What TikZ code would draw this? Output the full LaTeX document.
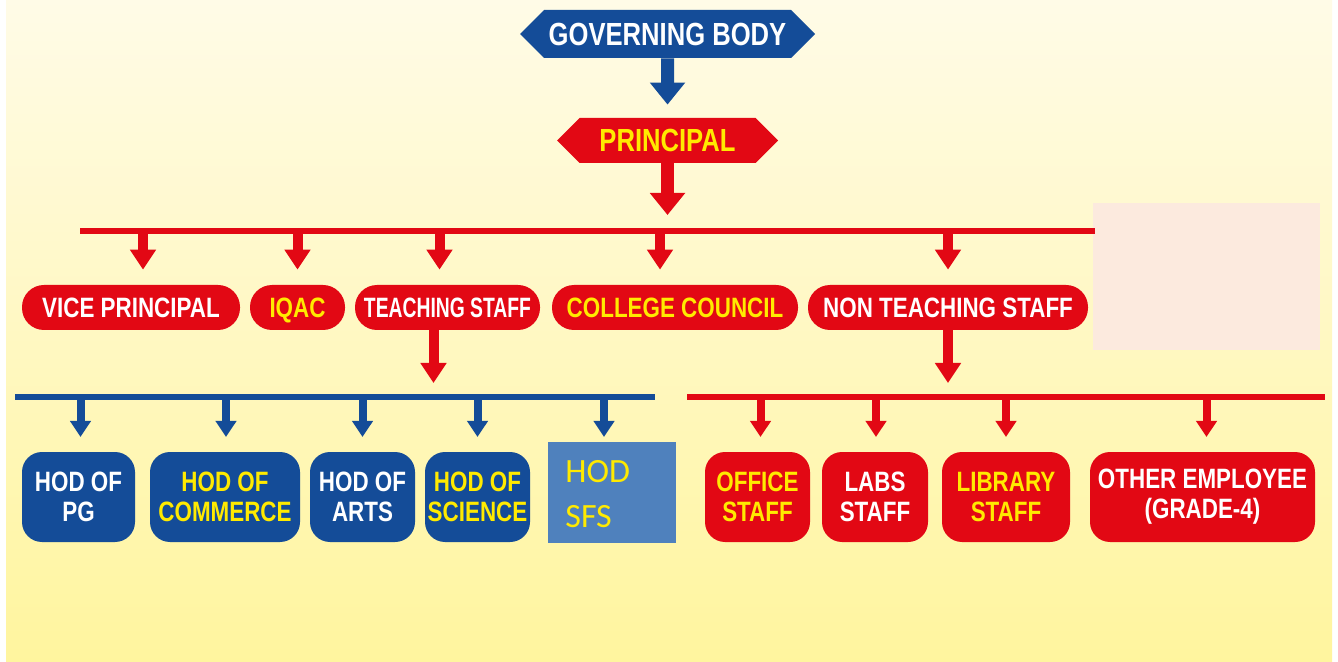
\documentclass[tikz,border=0pt]{standalone}
\usepackage{fontspec}
\setmainfont{Liberation Sans}
\newfontfamily\chartFont[FakeStretch=0.8]{Liberation Sans}
\newfontfamily\narrowFont[FakeStretch=0.69]{Liberation Sans}
\newfontfamily\sfsFont{Carlito}
\usetikzlibrary{positioning,shapes.symbols,arrows.meta}
\definecolor{chartRed}{RGB}{226,8,20}
\definecolor{chartBlue}{RGB}{20,76,152}
\definecolor{chartYellow}{RGB}{255,234,0}
\definecolor{sfsBlue}{RGB}{79,129,189}
\definecolor{noteColor}{RGB}{252,234,222}
\definecolor{bgTop}{RGB}{255,251,231}
\definecolor{bgBottom}{RGB}{255,245,158}
\tikzstyle{chart} = [x = .5pt, y = -.5pt]
\tikzstyle{headStyle} = [signal, signal to=west and east, signal pointer angle=90, inner sep=1pt, text height=11.5pt, text depth=0pt, font=\chartFont\bfseries\fontsize{16}{18}\selectfont]
\tikzstyle{pillStyle} = [fill=chartRed, rounded corners=11pt, minimum height=22.5pt, inner sep=1pt, text height=10pt, text depth=0pt, font=\chartFont\bfseries\fontsize{14}{16}\selectfont]
\tikzstyle{boxStyle} = [rounded corners=10pt, minimum height=45pt, inner sep=1pt, align=center, font=\chartFont\bfseries\fontsize{14}{15}\selectfont]
\tikzstyle{redBox} = [boxStyle, fill=chartRed]
\tikzstyle{blueBox} = [boxStyle, fill=chartBlue]
\tikzstyle{bigArrow} = [line width=6.5pt, -{Triangle[width=17pt,length=11pt]}]
\tikzstyle{midArrow} = [draw=chartRed, line width=5pt, -{Triangle[width=12.5pt,length=10pt]}]
\tikzstyle{smallArrow} = [line width=4pt, -{Triangle[width=10pt,length=8pt]}]
\tikzstyle{barLine} = [line width=2.6pt]

\begin{document}
\begin{tikzpicture}[chart]
  \useasboundingbox (0,0) rectangle (1338,662);
  \fill[white] (0,0) rectangle (1338,662);
  \shade[top color=bgTop, bottom color=bgBottom] (6,0) rectangle (1332,662);
  \fill[noteColor] (1093,203) rectangle (1320,350);

  % top of the chart
  \node[headStyle, fill=chartBlue, text=white, minimum width=147.5pt, minimum height=24pt] (governing) at (667.5,34) {GOVERNING BODY};
  \node[headStyle, fill=chartRed, text=chartYellow, minimum width=110.5pt, minimum height=22.5pt] (principal) at (667.5,140.5) {PRINCIPAL};
  \draw[bigArrow, draw=chartBlue, shorten >=6.5pt] (governing) -- (principal);
  \coordinate (topBarLeft) at (80,231);
  \coordinate (topBarRight) at (1095,231);
  \draw[bigArrow, draw=chartRed, shorten >=8pt] (principal.south) -- (principal.south |- topBarLeft);
  \draw[barLine, chartRed] (topBarLeft) -- (topBarRight);

  % second row
  \node[pillStyle, text=white, minimum width=109pt] (vicePrincipal) at (131,307.5) {VICE PRINCIPAL};
  \node[pillStyle, text=chartYellow, minimum width=47.5pt] (iqac) at (297.5,307.5) {IQAC};
  \node[pillStyle, text=white, minimum width=92.5pt, font=\narrowFont\bfseries\fontsize{14}{16}\selectfont] (teaching) at (447.5,307.5) {TEACHING STAFF};
  \node[pillStyle, text=chartYellow, minimum width=123pt] (council) at (675,307.5) {COLLEGE COUNCIL};
  \node[pillStyle, text=white, minimum width=140pt] (nonTeaching) at (948,307.5) {NON TEACHING STAFF};
  \foreach \target/\shift in {vicePrincipal/6, iqac/0, teaching/-4, council/-7.5, nonTeaching/0}
    \draw[midArrow, shorten >=7.5pt] ([xshift=\shift pt]\target.north |- topBarLeft) -- ([xshift=\shift pt]\target.north);

  % bars for the departments and the staff
  \coordinate (blueBarLeft) at (15,397);
  \coordinate (blueBarRight) at (655,397);
  \coordinate (redBarLeft) at (687,397);
  \coordinate (redBarRight) at (1325,397);
  \draw[midArrow, shorten >=7pt] ([xshift=-7pt]teaching.south) -- ([xshift=-7pt]teaching.south |- blueBarLeft);
  \draw[midArrow, shorten >=7pt] (nonTeaching.south) -- (nonTeaching.south |- redBarLeft);
  \draw[barLine, chartBlue, line width=3pt] (blueBarLeft) -- (blueBarRight);
  \draw[barLine, chartRed] (redBarLeft) -- (redBarRight);

  % bottom row
  \node[blueBox, text=white, minimum width=56.5pt] (hodPg) at (78.5,497) {HOD OF\\PG};
  \node[blueBox, text=chartYellow, minimum width=75pt] (hodCommerce) at (225,497) {HOD OF\\COMMERCE};
  \node[blueBox, text=white, minimum width=52.5pt] (hodArts) at (362.5,497) {HOD OF\\ARTS};
  \node[blueBox, text=chartYellow, minimum width=52.5pt] (hodScience) at (477.5,497) {HOD OF\\SCIENCE};
  \node[fill=sfsBlue, minimum width=64pt, minimum height=50.5pt] (hodSfs) at (612,492.5) {};
  \node[anchor=north west, inner sep=0pt, align=left, text=chartYellow, font=\sfsFont\fontsize{17}{22.5}\selectfont] (sfsText) at (565,460) {HOD\\SFS};
  \node[redBox, text=chartYellow, minimum width=52.5pt] (office) at (757.5,497) {OFFICE\\STAFF};
  \node[redBox, text=white, minimum width=53pt] (labs) at (875,497) {LABS\\STAFF};
  \node[redBox, text=chartYellow, minimum width=64pt] (library) at (1006,497) {LIBRARY\\STAFF};
  \node[redBox, text=white, minimum width=112.5pt] (otherEmployee) at (1202.5,497) {OTHER EMPLOYEE\\(GRADE-4)};
  \foreach \target/\shift in {hodPg/1, hodCommerce/0.5, hodArts/0, hodScience/0, hodSfs/-4}
    \draw[smallArrow, draw=chartBlue, shorten >=7.5pt] ([xshift=\shift pt]\target.north |- blueBarLeft) -- ++(0,55);
  \foreach \target/\shift in {office/1.5, labs/0.5, library/0, otherEmployee/2}
    \draw[smallArrow, draw=chartRed, shorten >=7.5pt] ([xshift=\shift pt]\target.north |- redBarLeft) -- ++(0,55);
\end{tikzpicture}
\end{document}
